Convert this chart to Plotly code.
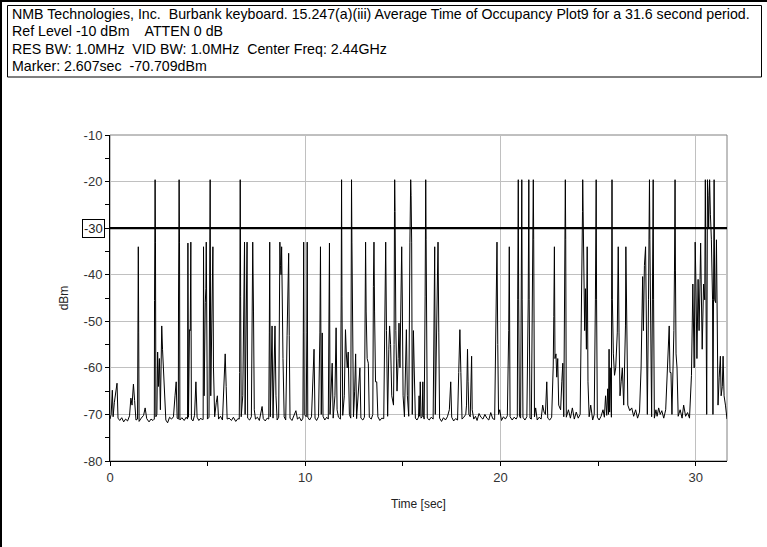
import plotly.graph_objects as go

# ---- data (time in s, level in dBm) ----
time_s = [
    0.00, 0.06, 0.12, 0.16, 0.22, 0.30, 0.36, 0.41, 0.50,
    0.60, 0.70, 0.80, 0.90, 1.00, 1.07, 1.13, 1.20, 1.26, 1.33,
    1.41, 1.43, 1.45, 1.47, 1.49, 1.60, 1.72, 1.80, 1.88, 2.00, 2.10, 2.20,
    2.27, 2.28, 2.29, 2.31, 2.33, 2.35, 2.40, 2.44, 2.48, 2.53, 2.58, 2.65, 2.69, 2.74, 2.80, 2.86,
    2.95, 3.05, 3.15, 3.25, 3.33, 3.39, 3.44, 3.50, 3.51, 3.52, 3.54, 3.56, 3.58, 3.68, 3.80, 3.90,
    3.97, 3.99, 4.02, 4.07, 4.11, 4.14, 4.17, 4.25, 4.33, 4.40, 4.46, 4.55, 4.65, 4.74,
    4.77, 4.79, 4.82, 4.88, 4.91, 4.93, 4.96, 4.99, 5.07, 5.10, 5.13, 5.16, 5.24, 5.27, 5.30, 5.36,
    5.44, 5.50, 5.56, 5.66, 5.76, 5.84, 5.90, 5.95, 6.00, 6.10, 6.22, 6.32, 6.44, 6.55, 6.62,
    6.64, 6.65, 6.67, 6.69, 6.72, 6.80, 6.84, 6.89, 6.92, 6.98, 7.02, 7.05,
    7.15, 7.24, 7.27, 7.31, 7.35, 7.39, 7.45, 7.55, 7.65, 7.72, 7.79, 7.85, 7.95, 8.05, 8.13,
    8.16, 8.18, 8.21, 8.26, 8.30, 8.35, 8.41, 8.45, 8.50, 8.56, 8.64,
    8.67, 8.70, 8.73, 8.76, 8.79, 8.82, 8.86, 8.92, 9.00, 9.07, 9.12, 9.15, 9.18, 9.22,
    9.32, 9.42, 9.52, 9.60, 9.70, 9.80, 9.88, 9.90, 9.92, 9.95, 10.05, 10.08, 10.10, 10.13,
    10.22, 10.32, 10.40, 10.45, 10.50, 10.58, 10.68, 10.75, 10.78, 10.82, 10.87, 10.91, 11.00, 11.10, 11.18,
    11.21, 11.24, 11.27, 11.33, 11.38, 11.43, 11.52, 11.58, 11.63, 11.70, 11.80,
    11.84, 11.86, 11.88, 11.92, 12.00, 12.06, 12.10, 12.15, 12.20, 12.26, 12.33,
    12.35, 12.37, 12.39, 12.42, 12.47, 12.53, 12.58, 12.63, 12.72, 12.80, 12.85, 12.95, 13.03,
    13.06, 13.09, 13.12, 13.17, 13.23, 13.28, 13.38, 13.46, 13.49, 13.52, 13.55, 13.60, 13.66, 13.72, 13.82, 13.92, 14.02,
    14.08, 14.12, 14.16, 14.22, 14.28, 14.32, 14.37, 14.43, 14.52,
    14.55, 14.57, 14.58, 14.60, 14.64, 14.70, 14.76, 14.80, 14.85, 14.91, 14.94, 14.97, 15.01, 15.08, 15.14, 15.18, 15.23, 15.30,
    15.36, 15.38, 15.40, 15.42, 15.45, 15.48, 15.52, 15.54, 15.58, 15.64, 15.72, 15.80, 15.83, 15.86, 15.89, 15.93, 15.99, 16.02, 16.05, 16.09,
    16.14, 16.15, 16.17, 16.19, 16.21, 16.25, 16.35, 16.45, 16.55, 16.60, 16.63, 16.66, 16.74, 16.80, 16.84, 16.88,
    16.98, 17.08, 17.18, 17.28, 17.38, 17.45, 17.50, 17.60, 17.70, 17.80, 17.86, 17.92, 17.97, 18.03, 18.12, 18.22, 18.26, 18.28, 18.31, 18.34, 18.38, 18.45, 18.48, 18.52, 18.55, 18.63,
    18.72, 18.80, 18.90, 19.00, 19.10, 19.20, 19.30, 19.40, 19.50, 19.60, 19.70, 19.78, 19.82, 19.86, 19.90, 19.96, 20.05, 20.15, 20.25, 20.35, 20.42, 20.45, 20.49, 20.60, 20.70, 20.80, 20.86,
    20.88, 20.89, 20.91, 20.93, 20.97, 21.03, 21.06, 21.09, 21.11, 21.15, 21.25, 21.35, 21.42, 21.45, 21.47, 21.51, 21.58, 21.64, 21.66, 21.68, 21.70, 21.74,
    21.80, 21.88, 21.98, 22.08, 22.16, 22.23, 22.30, 22.37, 22.42, 22.52, 22.62,
    22.70, 22.73, 22.76, 22.79, 22.84, 22.88, 22.93, 22.98, 23.08, 23.14, 23.19, 23.24,
    23.29, 23.30, 23.32, 23.34, 23.37, 23.48, 23.58, 23.68, 23.78, 23.88, 23.98, 24.08, 24.14,
    24.18, 24.20, 24.21, 24.23, 24.27, 24.31, 24.35, 24.40, 24.44, 24.48, 24.54, 24.62, 24.72, 24.80, 24.86,
    24.90, 24.92, 24.96, 25.05, 25.15, 25.25, 25.32, 25.38, 25.44, 25.49, 25.53, 25.56, 25.59, 25.62, 25.65, 25.68, 25.69,
    25.71, 25.73, 25.78, 25.84, 25.90, 25.98, 26.03, 26.07, 26.12, 26.18, 26.24, 26.31, 26.37, 26.40, 26.42, 26.46, 26.52,
    26.62, 26.72, 26.82, 26.92, 27.02, 27.12, 27.20,
    27.24, 27.28, 27.32, 27.37, 27.43, 27.47, 27.52, 27.58, 27.60, 27.63, 27.65, 27.69, 27.74, 27.78, 27.82, 27.84, 27.88,
    27.96, 28.02, 28.10, 28.18, 28.26, 28.36, 28.46, 28.54, 28.60, 28.64, 28.68, 28.73, 28.78,
    28.88, 28.91, 28.94, 28.96, 28.99, 29.04, 29.10, 29.20, 29.30, 29.38, 29.48, 29.58, 29.68, 29.78,
    29.85, 29.92, 29.97, 30.01, 30.06, 30.12, 30.17, 30.22, 30.25, 30.29, 30.33, 30.40, 30.46, 30.49, 30.53, 30.56, 30.58, 30.60, 30.63, 30.66, 30.69, 30.71, 30.75, 30.80,
    30.86, 30.88, 30.91, 30.94, 30.97, 31.02, 31.06, 31.10, 31.14, 31.20, 31.26, 31.30, 31.36, 31.40, 31.45, 31.52, 31.58, 31.60,
]

level_dbm = [
    -71.0, -70.0, -64.8, -70.5, -67.5, -64.5, -63.3, -70.8, -71.3,
    -70.7, -71.6, -71.0, -71.4, -70.3, -66.5, -68.0, -63.5, -67.0, -71.2,
    -71.0, -52.5, -34.0, -52.5, -71.5, -70.8, -70.2, -68.6, -70.9, -71.6, -71.0, -71.3,
    -71.0, -45.5, -33.0, -19.6, -33.0, -70.5, -70.0, -56.6, -64.0, -58.0, -69.0, -51.0, -56.0, -60.0, -66.0, -71.2,
    -71.8, -70.6, -71.0, -70.5, -66.0, -63.0, -70.8, -71.0, -45.0, -33.0, -19.6, -33.0, -71.2, -70.7, -71.3, -70.6,
    -71.0, -33.2, -70.6, -51.8, -52.0, -33.0, -71.0, -71.4, -70.2, -63.0, -70.6, -71.3, -70.8, -71.2,
    -71.0, -34.0, -66.0, -46.0, -43.0, -33.0, -47.5, -71.0, -70.6, -47.5, -19.6, -66.0, -45.0, -34.0, -60.0, -70.5,
    -67.5, -66.0, -71.0, -70.4, -71.2, -64.0, -57.0, -64.0, -71.0, -70.8, -71.3, -70.6, -71.5, -70.9, -71.0,
    -61.0, -45.0, -19.6, -44.6, -70.5, -66.0, -44.6, -33.0, -70.0, -52.5, -33.0, -70.8,
    -71.2, -70.5, -50.4, -33.0, -48.0, -69.0, -71.0, -70.6, -71.3, -70.0, -68.3, -70.9, -71.4, -70.8, -71.0,
    -52.5, -33.0, -70.5, -52.5, -51.0, -70.8, -60.0, -51.0, -66.0, -71.2, -70.6,
    -47.0, -33.0, -38.0, -40.0, -34.0, -47.0, -58.0, -70.5, -71.2, -53.0, -44.6, -35.4, -53.0, -70.8,
    -71.3, -70.4, -69.2, -71.0, -70.6, -71.4, -70.8, -52.5, -33.0, -70.0, -70.5, -52.5, -33.0, -70.6,
    -71.2, -70.5, -60.0, -56.0, -70.8, -71.3, -70.5, -52.5, -34.0, -70.0, -52.5, -70.4, -71.2, -70.6, -71.0,
    -44.0, -33.2, -70.0, -62.0, -59.0, -70.8, -66.0, -51.4, -69.0, -70.6, -71.0,
    -45.0, -19.6, -44.6, -70.2, -66.0, -51.8, -56.6, -60.0, -56.6, -70.0, -70.8,
    -33.0, -19.6, -33.0, -58.0, -70.5, -65.0, -57.0, -70.9, -64.0, -60.0, -70.8, -71.2, -70.6,
    -48.0, -33.0, -48.0, -58.0, -59.0, -70.6, -71.0, -70.0, -42.5, -33.0, -48.0, -63.0, -63.0, -70.5, -71.3, -70.8, -70.9,
    -52.5, -33.0, -52.0, -70.4, -56.0, -51.0, -55.0, -66.0, -68.0,
    -55.0, -26.4, -19.6, -26.4, -52.0, -65.0, -58.0, -50.4, -60.0, -45.0, -34.0, -45.0, -66.0, -70.5, -58.0, -51.8, -66.0, -70.4,
    -33.0, -23.0, -19.6, -23.0, -33.0, -70.0, -58.0, -52.0, -60.0, -70.8, -71.2, -70.6, -66.0, -70.4, -63.0, -70.8, -70.5, -63.0, -70.2, -71.0,
    -44.6, -32.5, -19.6, -32.5, -44.6, -70.8, -71.2, -70.6, -71.0, -52.0, -34.0, -70.0, -52.5, -33.0, -52.5, -70.8,
    -71.5, -70.7, -71.2, -70.5, -69.0, -63.0, -70.6, -71.4, -70.9, -71.2, -61.0, -51.8, -61.0, -71.0, -70.6, -70.0, -68.0, -60.0, -56.0, -63.0, -70.0, -70.5, -64.0, -57.5, -69.0, -71.0,
    -70.4, -71.3, -69.8, -70.6, -71.0, -70.0, -70.8, -71.2, -69.6, -70.9, -71.1, -43.0, -33.0, -55.0, -70.0, -69.0, -71.3, -70.5, -71.0, -70.3, -52.0, -34.0, -70.5, -71.2, -70.6, -71.0, -70.5,
    -45.4, -32.5, -19.6, -45.4, -70.4, -70.8, -45.4, -19.6, -45.4, -70.6, -71.2, -70.5, -45.4, -19.6, -45.4, -70.8, -71.0, -45.4, -32.5, -19.6, -32.5, -70.5,
    -68.6, -71.2, -70.6, -71.0, -68.0, -69.5, -70.0, -63.0, -70.8, -71.2, -70.6,
    -59.6, -49.0, -34.0, -58.0, -57.0, -62.0, -58.0, -68.0, -69.0, -63.0, -59.0, -70.5,
    -45.4, -32.5, -19.6, -32.5, -70.6, -69.0, -70.8, -68.6, -71.0, -69.5, -70.8, -70.0, -52.0,
    -43.0, -26.4, -19.6, -26.4, -43.0, -52.0, -43.0, -56.0, -34.0, -63.0, -70.5, -68.0, -71.2, -70.0, -45.4,
    -19.6, -45.4, -70.6, -71.2, -70.4, -69.0, -70.6, -66.0, -70.2, -64.5, -70.0, -56.0, -69.5, -60.0, -70.4, -70.6, -45.4,
    -19.6, -45.4, -57.0, -61.6, -60.0, -52.5, -34.0, -52.5, -66.0, -63.0, -60.0, -68.0, -56.0, -51.0, -34.0, -51.0, -68.0,
    -69.2, -68.6, -70.4, -69.0, -70.8, -69.5, -60.0,
    -52.0, -40.4, -52.0, -38.0, -34.0, -52.0, -70.0, -45.4, -32.5, -19.6, -32.5, -52.0, -70.5, -45.4, -19.6, -45.4, -70.8,
    -69.0, -70.4, -68.6, -70.0, -69.2, -70.8, -69.0, -61.0, -56.0, -51.0, -61.0, -61.0, -70.0,
    -52.0, -39.0, -19.6, -39.0, -57.0, -60.0, -70.4, -69.0, -70.8, -68.0, -70.4, -69.6, -70.8, -61.6,
    -42.0, -60.0, -33.0, -42.0, -58.0, -41.0, -52.0, -41.0, -33.2, -45.0, -56.0, -42.0, -45.4, -19.6, -45.0, -70.0, -45.0, -19.6, -23.0, -30.0, -23.0, -19.6, -27.0, -32.5,
    -45.4, -70.0, -45.4, -19.6, -45.4, -46.0, -32.5, -45.0, -68.0, -62.0, -57.5, -66.0, -64.0, -57.5, -66.0, -68.0, -70.5, -71.0,
]

assert len(time_s) == len(level_dbm), (len(time_s), len(level_dbm))
assert all(b > a for a, b in zip(time_s, time_s[1:]))

limit_dbm = -30
x_range = [0, 31.6]
y_range = [-80, -10]
y_tick_vals = [-80, -70, -60, -50, -40, -20, -10]
y_tick_text = ["-80", "-70", "-60", "-50", "-40", "-20", "-10"]
x_tick_vals = [0, 10, 20, 30]
x_tick_text = ["0", "10", "20", "30"]

header_lines = [
    "NMB Technologies, Inc.  Burbank keyboard. 15.247(a)(iii) Average Time of Occupancy Plot9 for a 31.6 second period.",
    "Ref Level -10 dBm    ATTEN 0 dB",
    "RES BW: 1.0MHz  VID BW: 1.0MHz  Center Freq: 2.44GHz",
    "Marker: 2.607sec  -70.709dBm",
]

# ---- geometry (pixels) ----
W, H = 767, 547
L, R, T, B = 110, 727, 135, 461
pw, ph = R - L, B - T


def px(x):
    return (x - L) / pw


def py(y):
    return (B - y) / ph


FONT = "Liberation Sans, Arial, sans-serif"

fig = go.Figure()
fig.add_trace(go.Scatter(
    x=time_s, y=level_dbm, mode="lines",
    line=dict(color="black", width=1), hoverinfo="skip", showlegend=False,
))

shapes = [
    dict(type="line", xref="paper", yref="y", x0=0, x1=1, y0=limit_dbm, y1=limit_dbm,
         line=dict(color="black", width=2.2), layer="above"),
    dict(type="rect", xref="paper", yref="paper", x0=0, x1=1, y0=0, y1=1,
         line=dict(color="#808080", width=1), layer="below"),
    dict(type="rect", xref="paper", yref="paper", x0=px(7.5), x1=px(761.5), y0=py(5.5), y1=py(77),
         line=dict(color="black", width=1)),
    # sunken window edge (top and left)
    dict(type="line", xref="paper", yref="paper", x0=px(0), x1=px(767), y0=py(1), y1=py(1),
         line=dict(color="black", width=2)),
    dict(type="line", xref="paper", yref="paper", x0=px(1), x1=px(1), y0=py(0), y1=py(547),
         line=dict(color="black", width=2)),
]

annotations = []
for i, line in enumerate(header_lines):
    annotations.append(dict(
        text=line, xref="paper", yref="paper", x=px(10), y=py(14 + i * 17.3),
        xanchor="left", yanchor="middle", showarrow=False,
        font=dict(family=FONT, size=14.2, color="black"),
    ))
annotations.append(dict(
    text="-30", xref="paper", yref="y", x=0, y=limit_dbm, xanchor="right", yanchor="middle",
    xshift=-5, showarrow=False, bordercolor="black", borderwidth=1, borderpad=1,
    font=dict(family=FONT, size=13, color="#222"),
))

fig.update_layout(
    width=W, height=H,
    margin=dict(l=L, r=W - R, t=T, b=H - B, pad=0),
    paper_bgcolor="white", plot_bgcolor="white",
    font=dict(family=FONT, size=12, color="#222"),
    shapes=shapes, annotations=annotations,
    xaxis=dict(
        range=x_range, tickvals=x_tick_vals, ticktext=x_tick_text,
        showgrid=True, gridcolor="#c0c0c0", gridwidth=1,
        zeroline=False, showline=True, linecolor="black", linewidth=1,
        ticks="outside", ticklen=4, tickcolor="black",
        minor=dict(dtick=5, ticks="outside", ticklen=4, tickcolor="black", showgrid=False),
        title=dict(text="Time [sec]", font=dict(family=FONT, size=12, color="#222"), standoff=16),
        tickfont=dict(family=FONT, size=13, color="#333"),
    ),
    yaxis=dict(
        range=y_range, tickvals=y_tick_vals, ticktext=y_tick_text,
        showgrid=True, gridcolor="#c0c0c0", gridwidth=1,
        zeroline=False, showline=True, linecolor="black", linewidth=1,
        ticks="outside", ticklen=4, tickcolor="black",
        minor=dict(dtick=5, ticks="outside", ticklen=4, tickcolor="black", showgrid=False),
        title=dict(text="dBm", font=dict(family=FONT, size=12, color="#222"), standoff=12),
        tickfont=dict(family=FONT, size=13, color="#333"),
    ),
)

fig.write_html(
    "out.html",
    config={"displayModeBar": False, "staticPlot": True},
    post_script="document.body.style.margin='0';document.body.style.overflow='hidden';",
)
